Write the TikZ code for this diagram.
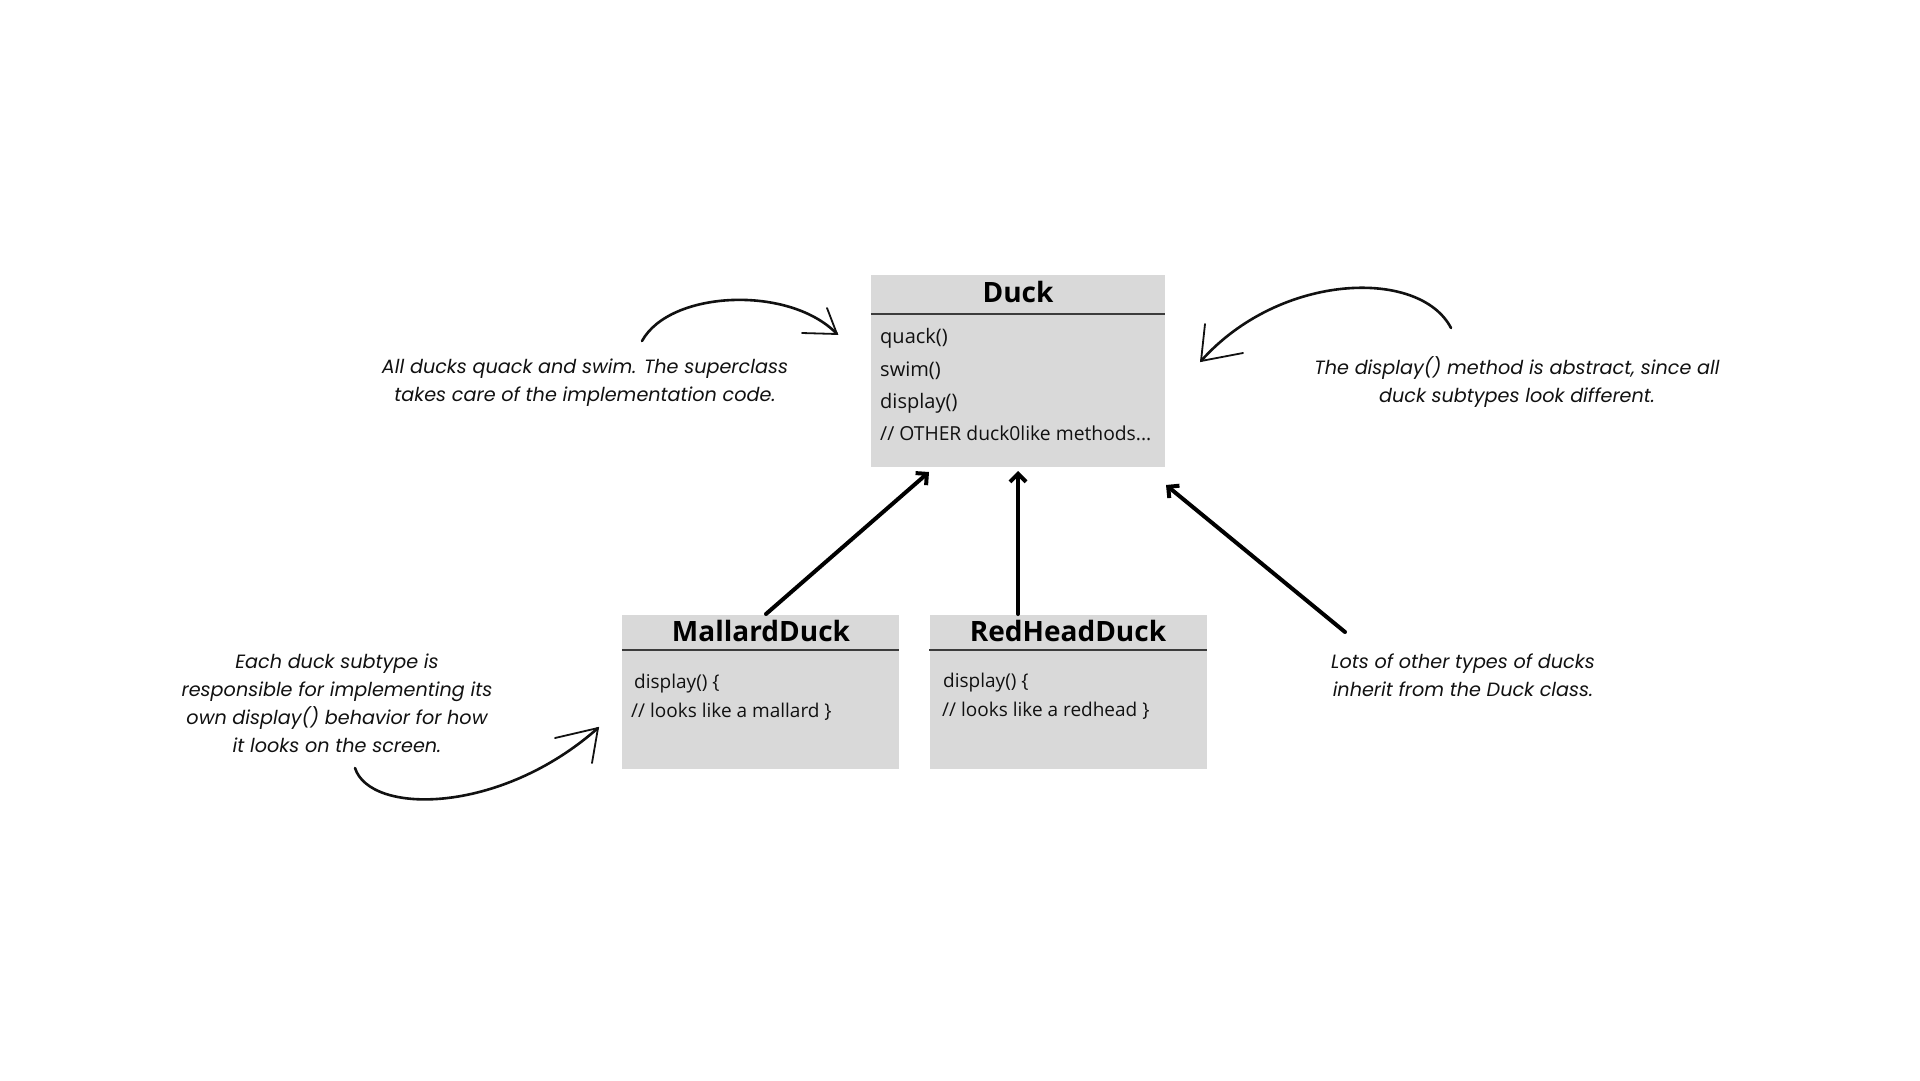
\documentclass[tikz,border=0pt]{standalone}
\usepackage{fontspec}
\setmainfont{Open Sans}
\newfontfamily\notefont{Poppins}
\usetikzlibrary{arrows.meta}
\definecolor{boxgray}{HTML}{D9D9D9}
\definecolor{rulegray}{HTML}{3C3C3C}
\definecolor{inkblack}{HTML}{111111}
\tikzset{
  classbox/.style={fill=boxgray, draw=none, inner sep=0pt},
  headrule/.style={draw=rulegray, line width=1.6pt},
  duckname/.style={font=\bfseries\fontsize{28}{32}\selectfont, text=black, inner sep=0pt, anchor=base},
  subname/.style={font=\bfseries\fontsize{28}{32}\selectfont, text=black, inner sep=0pt, anchor=base},
  method/.style={font=\fontsize{20}{22}\selectfont, text=inkblack, inner sep=0pt, anchor=base west},
  submethod/.style={font=\fontsize{19}{22}\selectfont, text=inkblack, inner sep=0pt, anchor=base west},
  note/.style={font=\notefont\itshape\fontsize{19.2}{28}\selectfont, text=inkblack, align=center, inner sep=0pt},
  inherit/.style={draw=black, line width=4pt, -{Straight Barb[length=8pt,width=16pt,line width=4pt]}, line cap=round},
  sketch/.style={draw=inkblack, line width=2.6pt, line cap=round},
  barb/.style={draw=inkblack, line width=1.8pt, line cap=round},
}
\begin{document}
\begin{tikzpicture}[x=1pt,y=-1pt]
\useasboundingbox (0,0) rectangle (1920,1080);
\fill[white] (0,0) rectangle (1920,1080);

% Duck class
\node[classbox, minimum width=294pt, minimum height=192pt] (duck) at (1018,371) {};
\draw[headrule] (duck.west |- 0,314) -- (duck.east |- 0,314);
\node[duckname] (duckt) at (1018,302) {Duck};
\node[method] (m1) at (880,343) {quack()};
\node[method] (m2) at (880,376) {swim()};
\node[method] (m3) at (880,408) {display()};
\node[method, font=\fontsize{19.3}{22}\selectfont] (m4) at (880,440) {// OTHER duck0like methods...};

% MallardDuck
\node[classbox, minimum width=277pt, minimum height=154pt] (mal) at (760.5,692) {};
\draw[headrule] (mal.west |- 0,650) -- (mal.east |- 0,650);
\node[subname] (malt) at (761,641) {MallardDuck};
\node[submethod] (mal1) at (634,688) {display()~\{};
\node[submethod] (mal2) at (631,717) {// looks like a mallard \}};

% RedHeadDuck
\node[classbox, minimum width=277pt, minimum height=154pt] (red) at (1068,692) {};
\draw[headrule] (red.west |- 0,650) -- (red.east |- 0,650);
\node[subname] (redt) at (1068,641) {RedHeadDuck};
\node[submethod] (red1) at (943,687) {display()~\{};
\node[submethod] (red2) at (942,716) {// looks like a redhead \}};

% inheritance arrows
\coordinate (malTail) at (766,614);
\coordinate (malTip) at (929,472);
\coordinate (redTail) at (1018,614);
\coordinate (redTip) at (1018,471);
\coordinate (othTail) at (1345,632);
\coordinate (othTip) at (1166,485);
\draw[inherit] (malTail) -- (malTip);
\draw[inherit] (redTail) -- (redTip);
\draw[inherit] (othTail) -- (othTip);

% notes
\node[note] (n1) at (585,383) {All ducks quack and swim. The superclass\\takes care of the implementation code.};
\node[note] (n2) at (1517,382) {The display() method is abstract, since all\\duck subtypes look different.};
\node[note] (n3) at (337,703) {Each duck subtype is\\responsible for implementing its\\own display() behavior for how\\it looks on the screen.};
\node[note] (n4) at (1463,675) {Lots of other types of ducks\\inherit from the Duck class.};

% sketched curved arrows
\coordinate (c1s) at (642,341);
\coordinate (c1e) at (837,334);
\draw[sketch] (c1s) .. controls (670,290) and (790,285) .. (c1e);
\draw[barb] (827,308) -- (c1e) -- (802,333);

\coordinate (c2s) at (1451,328);
\coordinate (c2e) at (1201,361);
\draw[sketch] (c2s) .. controls (1420,268) and (1280,272) .. (c2e);
\draw[barb] (1205,324) -- (c2e) -- (1243,353);

\coordinate (c3s) at (355,768);
\coordinate (c3e) at (598,728);
\draw[sketch] (c3s) .. controls (370,815) and (500,815) .. (c3e);
\draw[barb] (555,738) -- (c3e) -- (592,763);
\end{tikzpicture}
\end{document}
